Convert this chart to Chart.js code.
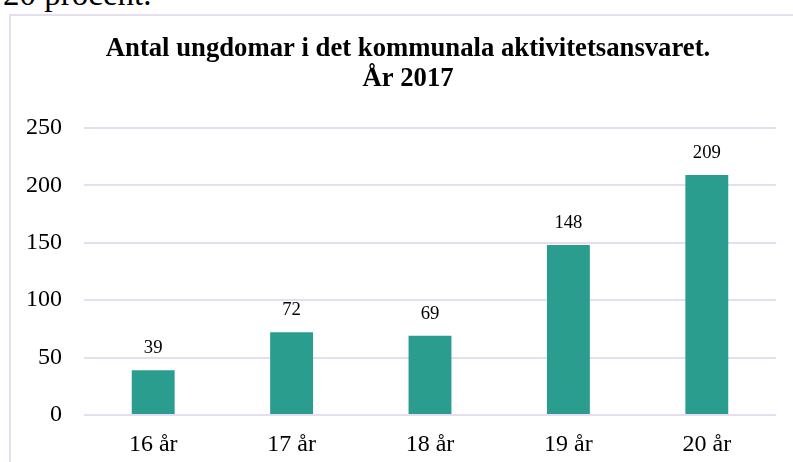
<!DOCTYPE html>
<html>
<head>
<meta charset="utf-8">
<script src="https://cdn.jsdelivr.net/npm/chart.js@4"></script>
<style>
  html, body { margin: 0; padding: 0; background: #fff; overflow: hidden; width: 793px; height: 462px; }
  #wrap { position: relative; width: 793px; height: 462px; overflow: hidden; }
  #intro { position: absolute; left: 3px; top: -22px; font-family: "Liberation Serif", "Times New Roman", serif; font-size: 33px; line-height: 33px; color: #000; white-space: nowrap; }
  #frame { position: absolute; left: 9px; top: 14px; width: 900px; height: 600px; border-left: 2px solid #e6def0; border-top: 2px solid #e6def0; }
  #c { position: absolute; left: 0; top: 0; }
</style>
</head>
<body>
<div id="wrap">
  <div id="intro">20 procent.</div>
  <div id="frame"></div>
  <canvas id="c" width="816" height="462"></canvas>
</div>
<script>
const categories = ["16 år", "17 år", "18 år", "19 år", "20 år"];
const values = [39, 72, 69, 148, 209];
const titleLines = ["Antal ungdomar i det kommunala aktivitetsansvaret.", "År 2017"];
const yTicks = [0, 50, 100, 150, 200, 250];

const SERIF = '"Liberation Serif", "Times New Roman", serif';

const valueLabels = {
  id: 'valueLabels',
  afterDatasetsDraw(chart) {
    const ctx = chart.ctx;
    const meta = chart.getDatasetMeta(0);
    ctx.save();
    ctx.font = '18.7px ' + SERIF;
    ctx.fillStyle = '#000';
    ctx.textAlign = 'center';
    ctx.textBaseline = 'middle';
    meta.data.forEach((bar, i) => {
      ctx.fillText(String(chart.data.datasets[0].data[i]), bar.x, bar.y - 22);
    });
    ctx.restore();
  }
};

new Chart(document.getElementById('c'), {
  type: 'bar',
  data: {
    labels: categories,
    datasets: [{
      data: values,
      backgroundColor: '#2A9D8F',
      borderWidth: 0,
      barPercentage: 0.31,
      categoryPercentage: 1,
      yAxisID: 'y'
    }]
  },
  options: {
    responsive: false,
    animation: false,
    devicePixelRatio: 1,
    layout: { padding: { left: 0, right: 0, top: 0, bottom: 0 } },
    plugins: {
      legend: { display: false },
      tooltip: { enabled: false },
      title: {
        display: true,
        text: titleLines,
        color: '#000',
        font: { family: SERIF, size: 26.7, weight: 'bold', lineHeight: '30px' },
        padding: { top: 34, bottom: 34 }
      }
    },
    scales: {
      x: {
        grid: { display: false, drawTicks: false },
        border: { display: false },
        ticks: { color: '#000', font: { family: SERIF, size: 24, lineHeight: 1.2 }, padding: 15 },
        afterFit(scale) { scale.height = 47; }
      },
      y: {
        position: 'left',
        min: 0,
        max: 250,
        afterBuildTicks(scale) { scale.ticks = yTicks.map(v => ({ value: v })); },
        grid: { color: '#e6def0', lineWidth: 2, drawTicks: false },
        border: { display: false },
        ticks: { color: '#000', font: { family: SERIF, size: 24 }, padding: 22 },
        afterFit(scale) { scale.width = 84; }
      },
      yRight: {
        position: 'right',
        display: true,
        min: 0,
        max: 250,
        grid: { display: false, drawTicks: false },
        border: { display: false },
        ticks: { display: false },
        afterFit(scale) { scale.width = 40; }
      }
    }
  },
  plugins: [valueLabels]
});
</script>
</body>
</html>
